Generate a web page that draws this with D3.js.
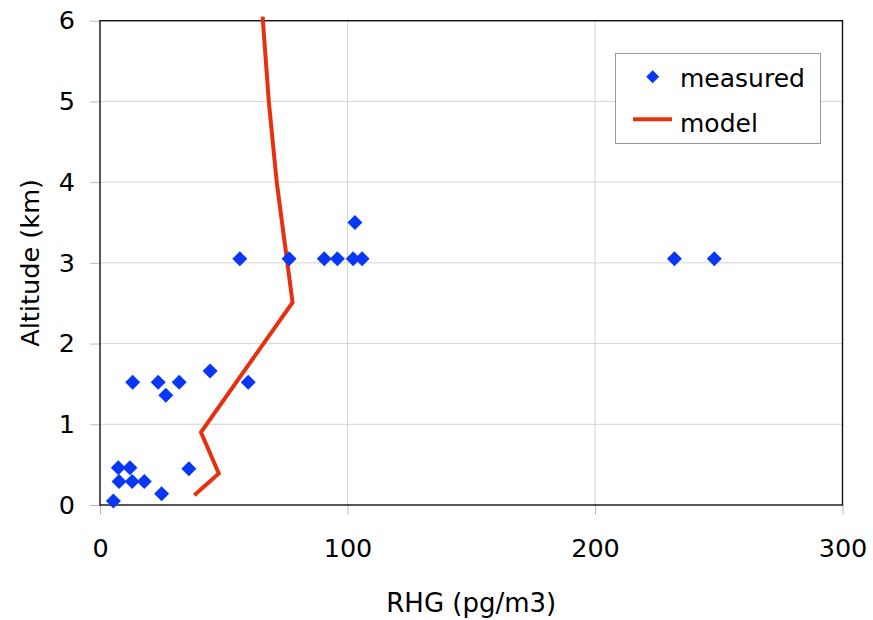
<!DOCTYPE html>
<html>
<head>
<meta charset="utf-8">
<script src="https://cdn.jsdelivr.net/npm/d3@7"></script>
<style>
  body { margin: 0; background: #fff; }
  svg { display: block; }
  text { font-family: "DejaVu Sans", sans-serif; fill: #000; }
</style>
</head>
<body>
<div id="chart"></div>
<script>
// measured RHG points (pg/m3) and their altitude (km)
const measuredRHG = [5.4, 24.9, 7.7, 13.0, 17.9, 7.4, 12.1, 35.9, 26.6, 13.2, 23.5, 32.0, 59.9, 44.5,
                     56.5, 76.4, 90.6, 95.9, 102.3, 105.9, 103.0, 232.1, 248.2]
const measuredAlt = [0.05, 0.14, 0.29, 0.29, 0.29, 0.46, 0.46, 0.45, 1.36, 1.52, 1.52, 1.52, 1.52, 1.66,
                     3.05, 3.05, 3.05, 3.05, 3.05, 3.05, 3.50, 3.05, 3.05]

// model profile
const modelRHG = [38.1, 48.0, 40.8, 77.8, 71.4, 68.2, 65.7]
const modelAlt = [0.12, 0.39, 0.90, 2.51, 4.0, 5.0, 6.05]

const xTicks = [0, 100, 200, 300]
const yTicks = [0, 1, 2, 3, 4, 5, 6]
const legendLabels = ['measured', 'model']

const blue = '#0a36f5'
const red = '#e6300e'

let width = 873,
    height = 620
let margin = { top: 20.7, right: 30.5, bottom: 115, left: 100 }

let svg = d3.select('#chart')
    .append('svg')
    .attr('width', width)
    .attr('height', height)

let x = d3.scaleLinear()
    .domain([0, 300])
    .range([margin.left, width - margin.right])

let y = d3.scaleLinear()
    .domain([0, 6])
    .range([height - margin.bottom, margin.top])

// gridlines
svg.append('g')
    .selectAll('line.hgrid')
    .data(yTicks.slice(1))
    .join('line')
    .attr('x1', x(0)).attr('x2', x(300))
    .attr('y1', d => y(d)).attr('y2', d => y(d))
    .attr('stroke', '#d4d4d4')
    .attr('stroke-width', 1)

svg.append('g')
    .selectAll('line.vgrid')
    .data(xTicks.slice(1, -1))
    .join('line')
    .attr('x1', d => x(d)).attr('x2', d => x(d))
    .attr('y1', y(0)).attr('y2', y(6))
    .attr('stroke', '#d4d4d4')
    .attr('stroke-width', 1)

// axes
let xAxis = svg.append('g')
    .attr('transform', `translate(0,${y(0)})`)
    .call(d3.axisBottom(x).tickValues(xTicks).tickFormat(d3.format('d')).tickSize(10).tickPadding(24))
let yAxis = svg.append('g')
    .attr('transform', `translate(${x(0)},0)`)
    .call(d3.axisLeft(y).tickValues(yTicks).tickFormat(d3.format('d')).tickSize(10).tickPadding(15))

;[xAxis, yAxis].forEach(ax => {
    ax.select('.domain').remove()
    ax.selectAll('.tick line').attr('stroke', '#bbb')
    ax.selectAll('.tick text')
        .style('font-family', '"DejaVu Sans", sans-serif')
        .style('font-size', '25.5px')
        .attr('fill', '#000')
})

// plot frame
svg.append('rect')
    .attr('x', x(0)).attr('y', y(6))
    .attr('width', x(300) - x(0))
    .attr('height', y(0) - y(6))
    .attr('fill', 'none')
    .attr('stroke', '#111')
    .attr('stroke-width', 1.4)

// model line
let modelData = modelRHG.map((v, i) => [v, modelAlt[i]])
svg.append('path')
    .datum(modelData)
    .attr('fill', 'none')
    .attr('stroke', red)
    .attr('stroke-width', 4)
    .attr('stroke-linejoin', 'miter')
    .attr('d', d3.line().x(d => x(d[0])).y(d => y(d[1])))

// measured diamonds
const diamond = r => `M0,${-r}L${r},0L0,${r}L${-r},0Z`
svg.append('g')
    .selectAll('path')
    .data(measuredRHG.map((v, i) => [v, measuredAlt[i]]))
    .join('path')
    .attr('transform', d => `translate(${x(d[0])},${y(d[1])})`)
    .attr('d', diamond(7.5))
    .attr('fill', blue)

// axis titles
svg.append('text')
    .attr('x', (x(0) + x(300)) / 2)
    .attr('y', 612)
    .attr('text-anchor', 'middle')
    .style('font-size', '26px')
    .text('RHG (pg/m3)')

svg.append('text')
    .attr('transform', `translate(38.5,${(y(0) + y(6)) / 2}) rotate(-90)`)
    .attr('text-anchor', 'middle')
    .style('font-size', '25.6px')
    .text('Altitude (km)')

// legend
let legend = svg.append('g')
legend.append('rect')
    .attr('x', 615.5).attr('y', 53.5)
    .attr('width', 205).attr('height', 90)
    .attr('fill', '#fff')
    .attr('stroke', '#999')
    .attr('stroke-width', 1)

legend.append('path')
    .attr('transform', 'translate(652.7,76.7)')
    .attr('d', diamond(6.5))
    .attr('fill', blue)
legend.append('line')
    .attr('x1', 633).attr('x2', 672)
    .attr('y1', 119.3).attr('y2', 119.3)
    .attr('stroke', red)
    .attr('stroke-width', 4)

legend.selectAll('text')
    .data(legendLabels)
    .join('text')
    .attr('x', 680)
    .attr('y', (d, i) => 86.7 + i * 45)
    .style('font-size', '25px')
    .text(d => d)
</script>
</body>
</html>
